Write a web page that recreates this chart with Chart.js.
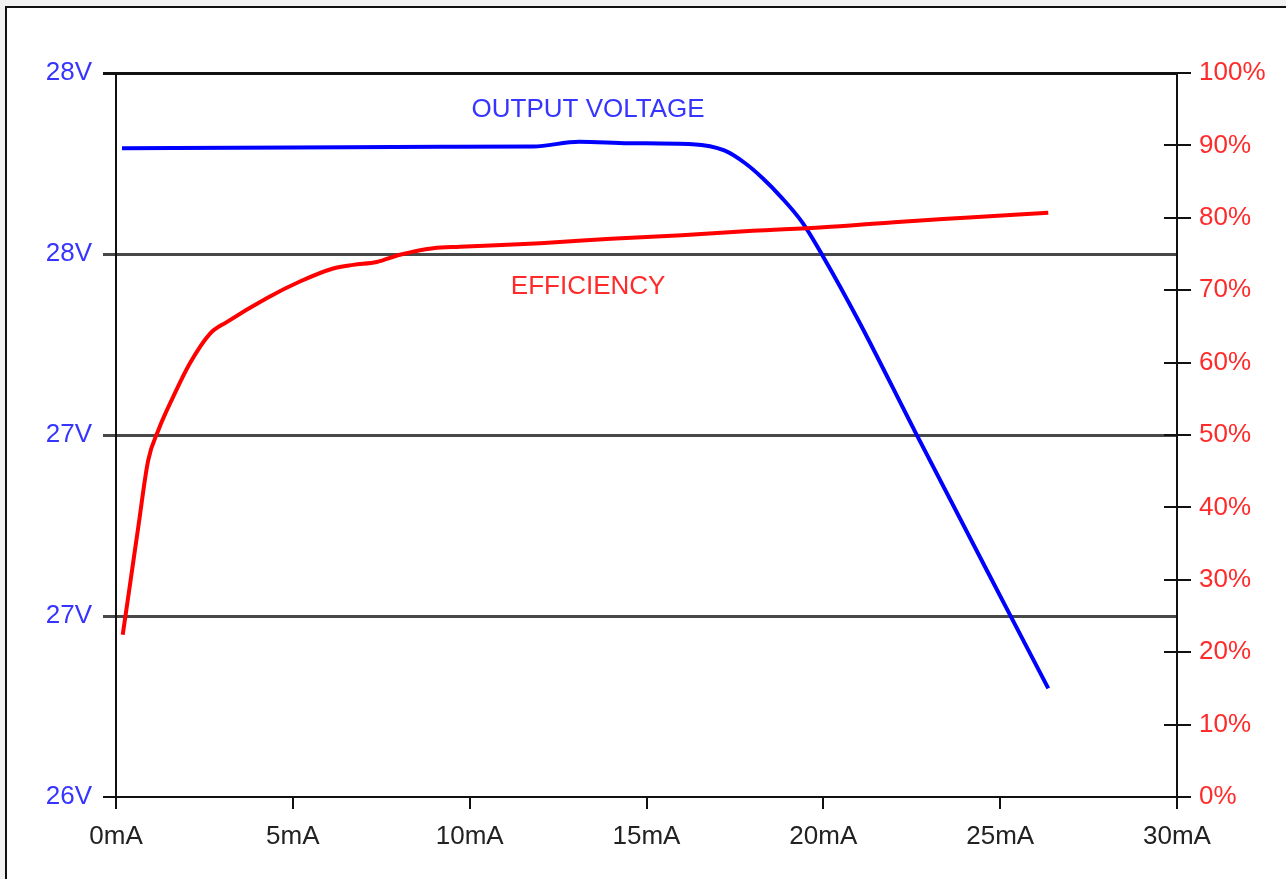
<!DOCTYPE html>
<html>
<head>
<meta charset="utf-8">
<script src="https://cdn.jsdelivr.net/npm/chart.js@4"></script>
<style>
  html, body { margin: 0; padding: 0; background: #f2f2f2; width: 1286px; height: 879px; overflow: hidden; }
  #frame { position: absolute; left: 5px; top: 6px; width: 1300px; height: 900px; background: #fff; border-left: 2px solid #111; border-top: 2px solid #111; }
  #wrap { position: absolute; left: 0; top: 0; width: 1286px; height: 879px; }
</style>
</head>
<body>
<div id="frame"></div>
<div id="wrap"><canvas id="c" width="1286" height="879"></canvas></div>
<script>
// ---- data ----
const currentTicks = [0, 5, 10, 15, 20, 25, 30];
const voltTickLabels = ['26V', '27V', '27V', '28V', '28V'];

const voltCurrent = [0.17, 5, 9.2, 11.8, 13.1, 14.5, 16.3, 17.2, 17.8, 18.3, 18.8, 19.4, 20.0, 21.0, 22.6, 25.3, 26.36];
const voltValues  = [27.792, 27.794, 27.796, 27.797, 27.810, 27.806, 27.803, 27.786, 27.750, 27.708, 27.658, 27.588, 27.492, 27.315, 27.008, 26.499, 26.30];

const effCurrent = [0.19, 0.40, 0.63, 0.91, 1.20, 1.62, 2.09, 2.66, 3.13, 4.26, 5.20, 6.14, 6.71, 7.37, 8.03, 8.97, 9.73, 12, 14, 16, 18, 20, 22, 24, 26.36];
const effValues  = [22.4, 29.5, 37.3, 46.5, 50.7, 55.3, 59.9, 64.0, 65.6, 68.9, 71.2, 73.0, 73.5, 73.9, 74.9, 75.8, 76.0, 76.5, 77.1, 77.6, 78.2, 78.7, 79.4, 80.0, 80.7];

const seriesNames = ['OUTPUT VOLTAGE', 'EFFICIENCY'];

// ---- chart ----
const FONT = '"Liberation Sans", Arial, sans-serif';
const BLUE = '#0000ff', RED = '#ff0000';
const BLUE_TXT = '#3535ff', RED_TXT = '#ff2a2a';

const annotations = [
  { text: seriesNames[0], x: 13.35, y: 27.898, axis: 'y', color: BLUE_TXT },
  { text: seriesNames[1], x: 13.35, y: 27.41, axis: 'y', color: RED_TXT }
];

const extras = {
  id: 'extras',
  afterDraw(chart) {
    const ctx = chart.ctx;
    const xs = chart.scales.x, y1 = chart.scales.y1;
    ctx.save();
    // inner half of right-axis cross ticks
    ctx.strokeStyle = '#111';
    ctx.lineWidth = 2;
    y1.ticks.forEach(t => {
      const py = Math.round(y1.getPixelForValue(t.value));
      ctx.beginPath();
      ctx.moveTo(y1.left - 13, py);
      ctx.lineTo(y1.left, py);
      ctx.stroke();
    });
    // series labels
    ctx.font = '26px ' + FONT;
    ctx.textAlign = 'center';
    ctx.textBaseline = 'middle';
    annotations.forEach(a => {
      ctx.fillStyle = a.color;
      ctx.fillText(a.text, xs.getPixelForValue(a.x), chart.scales[a.axis].getPixelForValue(a.y));
    });
    ctx.restore();
  }
};

new Chart(document.getElementById('c'), {
  type: 'line',
  data: {
    datasets: [
      {
        label: seriesNames[1],
        data: effCurrent.map((x, i) => ({ x, y: effValues[i] })),
        yAxisID: 'y1',
        borderColor: RED,
        borderWidth: 4,
        pointRadius: 0,
        cubicInterpolationMode: 'monotone',
        fill: false
      },
      {
        label: seriesNames[0],
        data: voltCurrent.map((x, i) => ({ x, y: voltValues[i] })),
        yAxisID: 'y',
        borderColor: BLUE,
        borderWidth: 4,
        pointRadius: 0,
        cubicInterpolationMode: 'monotone',
        fill: false
      }
    ]
  },
  options: {
    responsive: false,
    animation: false,
    layout: { padding: { top: 73, left: 0, right: 0, bottom: 0 } },
    plugins: { legend: { display: false }, tooltip: { enabled: false } },
    scales: {
      x: {
        type: 'linear',
        min: 0, max: 30,
        afterBuildTicks: s => { s.ticks = currentTicks.map(v => ({ value: v })); },
        afterFit: s => { s.height = 82; },
        ticks: {
          callback: v => v + 'mA',
          color: '#222',
          font: { family: FONT, size: 26 },
          padding: 12,
          maxRotation: 0,
          autoSkip: false
        },
        grid: { drawOnChartArea: false, drawTicks: true, tickLength: 12, color: '#111', lineWidth: 2 },
        border: { display: true, color: '#111', width: 2 }
      },
      y: {
        type: 'linear',
        position: 'left',
        min: 26, max: 28,
        ticks: {
          stepSize: 0.5,
          callback: (v, i) => voltTickLabels[i],
          color: BLUE_TXT,
          font: { family: FONT, size: 26 },
          padding: 11
        },
        afterFit: s => { s.width = 116; },
        grid: {
          drawOnChartArea: true,
          drawTicks: true,
          tickLength: 13,
          lineWidth: c => (c.index === 0 ? 2 : 3),
          color: c => (c.index === 0 || c.index === 4) ? '#111' : '#484848'
        },
        border: { display: true, color: '#111', width: 2 }
      },
      y1: {
        type: 'linear',
        position: 'right',
        min: 0, max: 100,
        ticks: {
          stepSize: 10,
          callback: v => v + '%',
          color: RED_TXT,
          font: { family: FONT, size: 26 },
          padding: 8
        },
        afterFit: s => { s.width = 109; },
        grid: { drawOnChartArea: false, drawTicks: true, tickLength: 14, color: '#111', lineWidth: 2 },
        border: { display: true, color: '#111', width: 2 }
      }
    }
  },
  plugins: [extras]
});
</script>
</body>
</html>
